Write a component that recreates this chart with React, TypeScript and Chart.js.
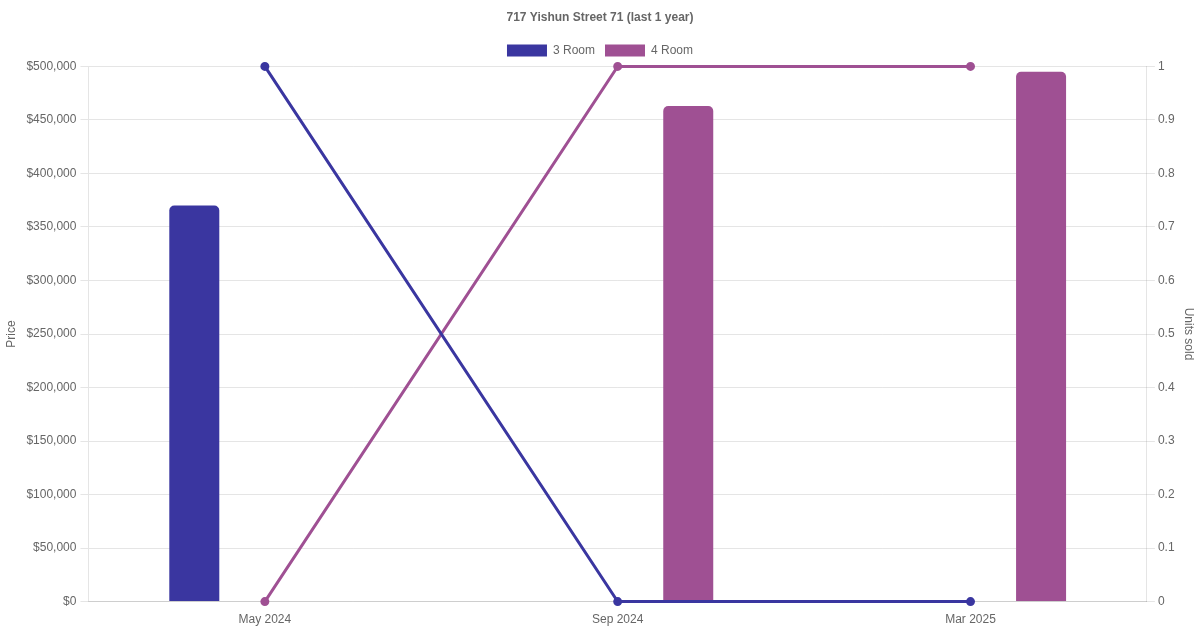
import React, { useEffect, useRef } from "react";
import { Chart, registerables } from "chart.js";

Chart.register(...registerables);

const categories = ["May 2024", "Sep 2024", "Mar 2025"];
const room3Price = [370000, null, null];
const room4Price = [null, 463000, 495000];
const room3Units = [1, 0, 0];
const room4Units = [0, 1, 1];
const color3 = "#3a36a0";
const color4 = "#9f5093";

export default function App() {
  const ref = useRef<HTMLCanvasElement | null>(null);
  useEffect(() => {
    if (!ref.current) return;
    const chart = new Chart(ref.current, {
      type: "bar",
      data: {
        labels: categories,
        datasets: [
          {
            type: "line",
            label: "3 Room units",
            data: room3Units,
            yAxisID: "y1",
            borderColor: color3,
            backgroundColor: color3,
            borderWidth: 3,
            pointRadius: 3,
            clip: false,
            order: 0,
          },
          {
            type: "line",
            label: "4 Room units",
            data: room4Units,
            yAxisID: "y1",
            borderColor: color4,
            backgroundColor: color4,
            borderWidth: 3,
            pointRadius: 3,
            clip: false,
            order: 0,
          },
          {
            type: "bar",
            label: "3 Room",
            data: room3Price,
            yAxisID: "y",
            backgroundColor: color3,
            borderColor: color3,
            borderRadius: 5,
            maxBarThickness: 50,
            categoryPercentage: 0.8,
            order: 1,
          },
          {
            type: "bar",
            label: "4 Room",
            data: room4Price,
            yAxisID: "y",
            backgroundColor: color4,
            borderColor: color4,
            borderRadius: 5,
            maxBarThickness: 50,
            categoryPercentage: 0.8,
            order: 1,
          },
        ] as any,
      },
      options: {
        animation: false,
        responsive: true,
        maintainAspectRatio: false,
        plugins: {
          title: {
            display: true,
            text: "717 Yishun Street 71 (last 1 year)",
            color: "#666",
            font: { size: 12, weight: "bold" },
          },
          legend: {
            labels: {
              color: "#666",
              filter: (item: any) => item.text === "3 Room" || item.text === "4 Room",
            },
          },
        },
        scales: {
          x: {
            grid: { display: false },
            ticks: { color: "#666" },
          },
          y: {
            position: "left",
            min: 0,
            max: 500000,
            ticks: {
              stepSize: 50000,
              color: "#666",
              padding: 4,
              callback: (v: any) => "$" + Number(v).toLocaleString("en-US"),
            },
            title: { display: true, text: "Price", color: "#666" },
          },
          y1: {
            position: "right",
            min: 0,
            max: 1,
            ticks: {
              stepSize: 0.1,
              color: "#666",
              callback: (v: any) => String(Math.round(Number(v) * 10) / 10),
            },
            grid: { drawOnChartArea: false },
            title: { display: true, text: "Units sold", color: "#666" },
          },
        },
      } as any,
    });
    return () => chart.destroy();
  }, []);
  return (
    <div style={{ position: "absolute", left: 0, top: 0, width: 1200, height: 630 }}>
      <canvas ref={ref} />
    </div>
  );
}
